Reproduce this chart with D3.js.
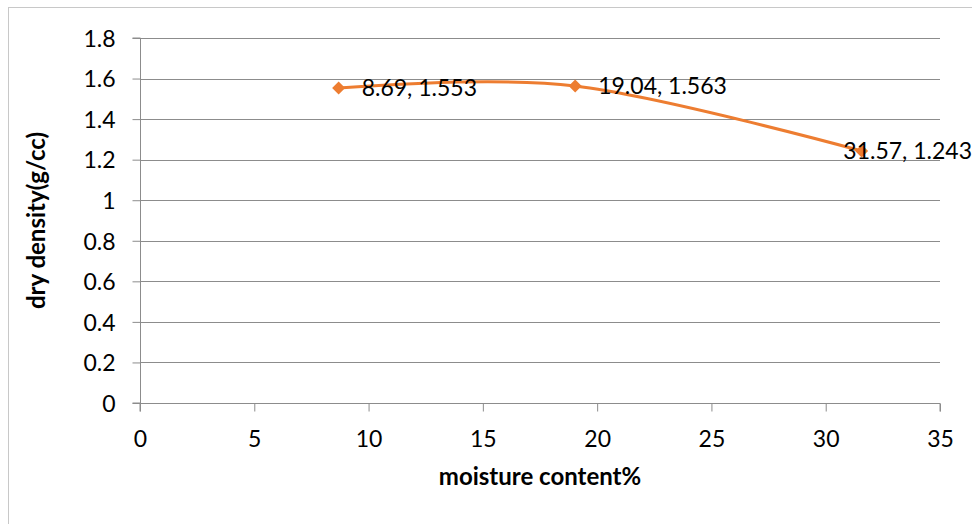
<!DOCTYPE html>
<html>
<head>
<meta charset="utf-8">
<script src="https://cdn.jsdelivr.net/npm/d3@7"></script>
<style>
  html, body { margin: 0; padding: 0; background: #fff; }
  svg { display: block; font-family: Lato, "Open Sans", sans-serif; }
</style>
</head>
<body>
<svg id="chart" width="972" height="524"></svg>
<script>
// Compaction test: moisture content vs dry density
const moisture = [8.69, 19.04, 31.57];
const dryDensity = [1.553, 1.563, 1.243];
const xTicks = [0, 5, 10, 15, 20, 25, 30, 35];
const yTicks = [0, 0.2, 0.4, 0.6, 0.8, 1, 1.2, 1.4, 1.6, 1.8];
const xTitle = "moisture content%";
const yTitle = "dry density(g/cc)";

const svg = d3.select("#chart");
const W = 972, H = 524;
const plot = { left: 140, right: 940, top: 38, bottom: 403 };
const orange = "#ED7D31";
const gridColor = "#8c8c8c";
const fontSize = "23px";

// outer chart frame
svg.append("rect")
  .attr("x", 8.5).attr("y", 7.5)
  .attr("width", W + 10).attr("height", H + 10)
  .attr("fill", "#fff").attr("stroke", "#c8c8c8").attr("stroke-width", 1);

const x = d3.scaleLinear().domain([0, 35]).range([plot.left, plot.right]);
const y = d3.scaleLinear().domain([0, 1.8]).range([plot.bottom, plot.top]);

// horizontal gridlines
svg.append("g").selectAll("line")
  .data(yTicks.filter(v => v > 0))
  .join("line")
  .attr("x1", plot.left).attr("x2", plot.right)
  .attr("y1", d => Math.round(y(d)) + 0.5).attr("y2", d => Math.round(y(d)) + 0.5)
  .attr("stroke", gridColor).attr("stroke-width", 1);

// y axis
const yAxis = svg.append("g")
  .attr("transform", `translate(${plot.left + 0.5},0)`)
  .call(d3.axisLeft(y).tickValues(yTicks).tickFormat(d3.format("")).tickSize(8).tickPadding(17));
// x axis
const xAxis = svg.append("g")
  .attr("transform", `translate(0,${Math.round(plot.bottom) + 0.5})`)
  .call(d3.axisBottom(x).tickValues(xTicks).tickFormat(d3.format("d")).tickSize(8));

[yAxis, xAxis].forEach(g => {
  g.select(".domain").attr("stroke", gridColor);
  g.selectAll(".tick line").attr("stroke", gridColor);
  g.selectAll(".tick text")
    .attr("fill", "#000")
    .style("font-family", "Lato, 'Open Sans', sans-serif")
    .style("font-size", fontSize);
});
yAxis.selectAll(".tick text").attr("dy", "0.36em");
xAxis.selectAll(".tick text").attr("y", 43.5).attr("dy", 0);
xAxis.select(".domain").attr("d", `M${plot.left},8V0H${plot.right}V8`);
yAxis.select(".domain").attr("d", `M-8,${plot.top}H0V${plot.bottom}H-8`);

// axis titles
svg.append("text")
  .attr("x", (plot.left + plot.right) / 2).attr("y", 485)
  .attr("text-anchor", "middle")
  .style("font-size", "24px").style("font-weight", "bold")
  .text(xTitle);
svg.append("text")
  .attr("transform", `translate(45,${(plot.top + plot.bottom) / 2}) rotate(-90)`)
  .attr("text-anchor", "middle")
  .style("font-size", "24px").style("font-weight", "bold")
  .text(yTitle);

const pts = moisture.map((m, i) => [m, dryDensity[i]]);

// smoothed series line
const line = d3.line()
  .x(d => x(d[0])).y(d => y(d[1]))
  .curve(d3.curveCardinal.tension(0));
svg.append("path")
  .datum(pts)
  .attr("d", line)
  .attr("fill", "none")
  .attr("stroke", orange)
  .attr("stroke-width", 3)
  .attr("stroke-linecap", "round");

// diamond markers
svg.append("g").selectAll("path")
  .data(pts)
  .join("path")
  .attr("transform", d => `translate(${x(d[0])},${y(d[1])})`)
  .attr("d", "M0,-6.5L6.5,0L0,6.5L-6.5,0Z")
  .attr("fill", orange);

// data labels to the right of each point, kept inside the chart
svg.append("g").selectAll("text")
  .data(pts)
  .join("text")
  .attr("x", d => x(d[0]) + 23)
  .attr("y", d => y(d[1]) + 8)
  .style("font-size", fontSize)
  .attr("fill", "#000")
  .text(d => `${d[0]}, ${d[1]}`)
  .each(function(d) {
    const w = this.getComputedTextLength();
    const px = x(d[0]) + 23;
    if (px + w > W) d3.select(this).attr("x", W - w);
  });
</script>
</body>
</html>
